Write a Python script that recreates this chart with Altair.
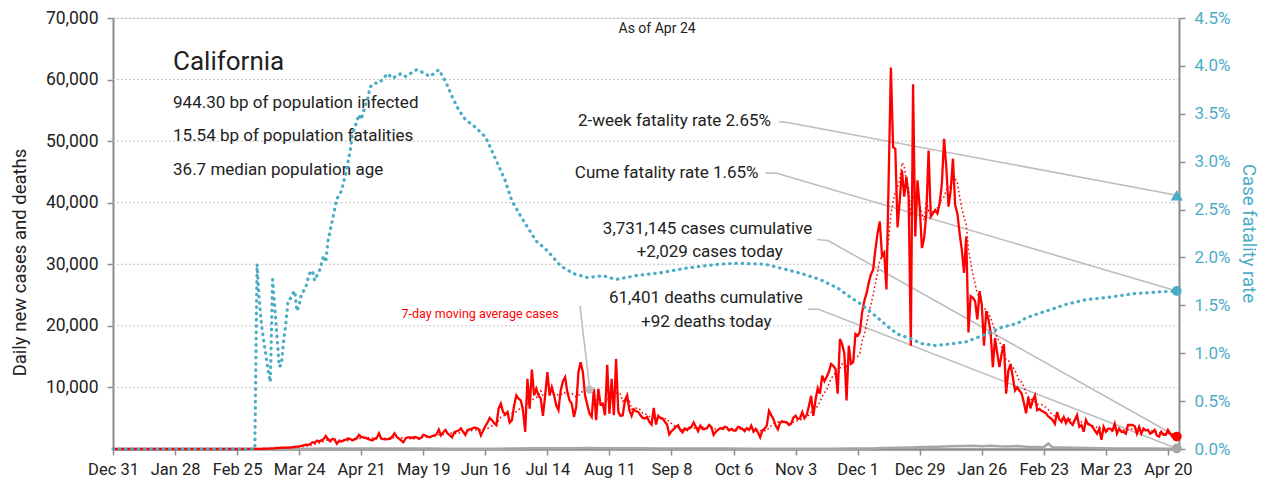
import altair as alt
import pandas as pd

# ---------------- data ----------------
START = "2019-12-31"

# daily new cases, one value per day from Dec 31 2019 to Apr 24 2021
cases = [
    0, 0, 0, 0, 0, 0, 0, 0, 0, 0,
    0, 0, 0, 0, 0, 0, 0, 0, 0, 0,
    0, 0, 0, 0, 0, 1, 0, 0, 0, 0,
    0, 1, 1, 0, 0, 0, 0, 0, 0, 0,
    0, 0, 0, 0, 0, 0, 0, 0, 0, 0,
    0, 0, 0, 0, 0, 0, 2, 1, 3, 5,
    4, 8, 10, 12, 15, 20, 25, 30, 45, 50,
    70, 90, 110, 130, 160, 180, 200, 210, 230, 250,
    240, 300, 350, 400, 420, 500, 600, 700, 650, 800,
    1100, 1000, 1370, 1200, 1400, 1600, 2100, 1600, 1250, 1650,
    1500, 850, 1300, 1200, 1400, 1500, 1700, 1650, 1400, 1600,
    1750, 2300, 1950, 1900, 1800, 1650, 1500, 1370, 1650, 1800,
    2550, 1700, 1600, 1550, 1600, 1650, 2000, 2550, 2000, 1700,
    1400, 1100, 1700, 1900, 1900, 1800, 1950, 1900, 1650, 1800,
    2300, 2200, 2000, 1900, 2100, 2200, 2400, 3150, 2200, 2700,
    3100, 2500, 2200, 1900, 2700, 2900, 3000, 3350, 2800, 2300,
    3100, 3200, 3300, 3500, 3400, 3250, 2200, 3000, 3700, 4300,
    5050, 4680, 4190, 3870, 6560, 7370, 6020, 5590, 6020, 4300,
    4680, 7100, 8710, 8170, 7900, 6290, 2800, 11400, 6560, 12900,
    8710, 9790, 8710, 8170, 5380, 8710, 12470, 8710, 10050, 8710,
    7100, 6290, 9520, 10970, 11670, 9250, 7900, 7370, 5210, 6830,
    12470, 14090, 12470, 8710, 7210, 5750, 5210, 9790, 4680, 9790,
    7210, 7370, 5480, 13660, 5750, 11400, 5480, 14630, 6020, 5380,
    5480, 7900, 8710, 6290, 5380, 6450, 6130, 6020, 5480, 5050,
    4950, 5210, 4410, 3980, 6670, 3980, 5380, 5050, 4950, 4410,
    3980, 2370, 2900, 3230, 3600, 3870, 3060, 2690, 3330, 3060,
    3440, 3600, 4300, 3600, 2900, 3790, 3250, 3250, 3400, 3900,
    3600, 2300, 2800, 3100, 3400, 3300, 3600, 3500, 3000, 3250,
    3000, 3000, 3600, 3500, 3250, 2900, 3400, 3100, 3800, 2800,
    3250, 2700, 1900, 3000, 3300, 3800, 6200, 5500, 4860, 3800,
    3200, 4300, 4400, 4400, 4330, 3900, 4100, 5100, 5400, 4860,
    5000, 6000, 5000, 5500, 7000, 8630, 5400, 8000, 9900, 9000,
    11900, 11000, 11700, 12500, 13800, 13500, 13000, 9000, 17860, 17050,
    15500, 7900, 16770, 13820, 14090, 18670, 18390, 19000, 22150, 24030,
    25270, 26990, 28340, 29140, 32370, 35060, 36940, 31290, 31830, 25910,
    44000, 61940, 49030, 48760, 36000, 40430, 45270, 40970, 44190, 40970,
    16775, 59250, 34520, 43650, 39350, 32630, 34240, 38270, 48490, 37730,
    38270, 38810, 38270, 39880, 43110, 50380, 45800, 39350, 42040, 47150,
    39610, 38270, 35050, 32360, 28600, 34500, 18920, 24830, 24560, 24020,
    21060, 25630, 23480, 16770, 22400, 21060, 18900, 13300, 18000, 15500,
    13300, 15500, 17000, 9000, 12700, 13800, 11700, 9500, 10000, 9500,
    9000, 7500, 5800, 8400, 6600, 7900, 8700, 6300, 6500, 6200,
    6000, 5800, 5300, 5000, 4700, 4100, 6000, 4800, 4400, 5200,
    4200, 4900, 4300, 3900, 4700, 5500, 3600, 3900, 2800, 4700,
    4000, 3900, 3600, 3000, 2500, 3300, 1500, 3600, 2800, 3300,
    3300, 3000, 4100, 2500, 3300, 2800, 2800, 2500, 3900, 3900,
    3900, 3700, 2500, 3600, 2500, 3300, 3000, 3100, 2500, 2700,
    3100, 2200, 2000, 2800, 2300, 2300, 3100, 2500, 2000, 2100,
    2029,
]
assert len(cases) == 481

# daily deaths (read at intervals; day offset from START)
death_day = [0, 60, 70, 80, 88, 95, 102, 110, 118, 126, 134, 142, 150, 158, 166,
             174, 182, 190, 198, 206, 214, 222, 230, 238, 246, 254, 262, 270, 278,
             286, 294, 302, 310, 318, 326, 334, 342, 348, 354, 360, 366, 372, 378,
             384, 388, 392, 396, 400, 404, 408, 412, 416, 420, 422, 424, 428, 434,
             440, 446, 452, 458, 464, 470, 476, 480]
death_val = [0, 0, 3, 20, 40, 70, 90, 80, 75, 70, 80, 70, 60, 55, 45,
             60, 80, 110, 140, 130, 150, 140, 120, 110, 100, 90, 80, 70, 75,
             60, 55, 50, 45, 50, 55, 70, 90, 160, 200, 260, 320, 380, 430,
             470, 520, 460, 540, 430, 400, 470, 360, 330, 290, 900, 270, 230, 200,
             150, 120, 100, 85, 75, 65, 60, 92]

# cumulative case fatality rate in percent (day offset from START)
cfr_day = [0, 64, 65, 66, 67, 68, 69, 70, 71, 72, 73, 74, 75, 76, 77, 78, 79, 80,
           81, 82, 83, 84, 85, 86, 87, 88, 89, 90, 91, 92, 93, 94, 95, 96, 97,
           101, 103, 105, 107, 108, 109, 111, 112, 114, 115, 116, 118, 120, 122,
           124, 126, 130, 132, 137, 139, 143, 147, 150, 153, 156, 159, 163, 168,
           172, 177, 180, 184, 188, 191, 196, 202, 208, 214, 221, 227, 236, 247,
           259, 274, 282, 294, 301, 311, 319, 327, 333, 337, 342, 349, 354, 360,
           365, 371, 379, 385, 393, 401, 408, 412, 421, 430, 439, 448, 460, 472, 480]
cfr_pct = [0, 0, 1.93, 1.55, 1.30, 1.13, 0.98, 0.82, 0.70, 1.77, 1.48, 1.17, 0.86, 0.88,
           1.13, 1.31, 1.55, 1.57, 1.62, 1.65, 1.44, 1.50, 1.62, 1.65, 1.69, 1.78, 1.85,
           1.86, 1.76, 1.81, 1.85, 1.93, 2.02, 1.95, 2.17,
           2.61, 2.69, 2.87, 3.11, 3.28, 3.35, 3.49, 3.44, 3.60, 3.66, 3.78, 3.82, 3.82,
           3.87, 3.92, 3.87, 3.92, 3.89, 3.96, 3.94, 3.89, 3.96, 3.84, 3.68, 3.54, 3.44,
           3.37, 3.26, 3.06, 2.80, 2.59, 2.43, 2.28, 2.17, 2.07, 1.91, 1.83, 1.79, 1.81,
           1.77, 1.81, 1.84, 1.89, 1.93, 1.94, 1.93, 1.89, 1.83, 1.77, 1.68, 1.58, 1.52,
           1.43, 1.29, 1.20, 1.15, 1.10, 1.08, 1.10, 1.12, 1.19, 1.27, 1.31, 1.37, 1.44,
           1.51, 1.56, 1.58, 1.62, 1.64, 1.65]

tick_dates = ["2019-12-31", "2020-01-28", "2020-02-25", "2020-03-24", "2020-04-21",
              "2020-05-19", "2020-06-16", "2020-07-14", "2020-08-11", "2020-09-08",
              "2020-10-06", "2020-11-03", "2020-12-01", "2020-12-29", "2021-01-26",
              "2021-02-23", "2021-03-23", "2021-04-20"]

left_ticks = [10000, 20000, 30000, 40000, 50000, 60000, 70000]
right_ticks = [0, 0.005, 0.01, 0.015, 0.02, 0.025, 0.03, 0.035, 0.04, 0.045]

# latest values
today_cases = 2029
today_deaths = 92
rate_2week = 2.65
rate_cume = 1.65

info_text = ["California", "944.30 bp of population infected",
             "15.54 bp of population fatalities", "36.7 median population age"]
center_text = ["As of Apr 24", "3,731,145 cases cumulative", "+2,029 cases today",
               "61,401 deaths cumulative", "+92 deaths today"]
right_text = ["2-week fatality rate 2.65%", "Cume fatality rate 1.65%"]
avg_label = "7-day moving average cases"

# ---------------- layout (annotation placement) ----------------
info_x = [27.1, 27.1, 27.1, 27.1]
info_y = [61500, 55450, 50050, 44450]
info_fs = [26, 17, 17, 17]
center_x = [245.5, 268.3, 269.3, 267.5, 267.7]
center_y = [67600, 34900, 31150, 23750, 19880]
center_fs = [14, 17, 17, 17, 17]
right_x = [296.9, 291.3]
right_y = [52400, 44000]
avg_label_x, avg_label_y = 201.1, 21200
avg_dot_day = 215

TOP_CASES = 70000
TOP_RATE = 0.045
leaders = [
    ("a", [300.5, 303.7, 480], [53150, 53070, rate_2week / 100 / TOP_RATE * TOP_CASES]),
    ("b", [294.4, 299.5, 480], [44840, 44790, rate_cume / 100 / TOP_RATE * TOP_CASES]),
    ("c", [317.7, 322.6, 480], [34030, 33870, today_cases]),
    ("d", [313.6, 318.3, 480], [22700, 22700, today_deaths]),
    ("e", [210.7, 215.2], [23230, 9500]),
]

BASE = pd.Timestamp(START)


def when(day):
    return (BASE + pd.Timedelta(hours=round(day * 24))).strftime("%Y/%m/%d %H:%M")


def dt(s):
    t = pd.Timestamp(s)
    return alt.DateTime(year=t.year, month=t.month, date=t.day, hours=t.hour, minutes=t.minute)


RED = "#ff0000"
BLUE = "#4bacc6"
GRAY = "#a6a6a6"
LEAD = "#bdbdbd"
INK = "#222222"
AXC = "#8c8c8c"
FONT = "Roboto"

daily = pd.DataFrame({"idx": list(range(len(cases))),
                      "date": [when(i) for i in range(len(cases))],
                      "cases": cases})
deaths = pd.DataFrame({"date": [when(d) for d in death_day], "val": death_val})
cfr = pd.DataFrame({"date": [when(d) for d in cfr_day], "rate": [p / 100 for p in cfr_pct]})
grid_df = pd.DataFrame({"val": left_ticks})

lead_rows = []
for lid, days, vals in leaders:
    for k, (d, v) in enumerate(zip(days, vals)):
        lead_rows.append({"id": lid, "k": k, "date": when(d), "val": v})
lead_df = pd.DataFrame(lead_rows)

info_df = pd.DataFrame({"date": [when(d) for d in info_x], "val": info_y,
                        "txt": info_text, "fs": info_fs})
center_df = pd.DataFrame({"date": [when(d) for d in center_x], "val": center_y,
                          "txt": center_text, "fs": center_fs})
right_df = pd.DataFrame({"date": [when(d) for d in right_x], "val": right_y,
                         "txt": right_text})
avg_lab_df = pd.DataFrame({"date": [when(avg_label_x)], "val": [avg_label_y], "txt": [avg_label]})
end_left = pd.DataFrame({"date": [when(480), when(480)], "val": [today_cases, today_deaths],
                         "c": [RED, GRAY]})
end_right = pd.DataFrame({"date": [when(480), when(480)],
                          "rate": [rate_2week / 100, rate_cume / 100],
                          "shape": ["triangle-up", "circle"], "sz": [150, 95]})

XS = alt.Scale(domain=[dt(when(0)), dt(when(481))])
YL = alt.Scale(domain=[0, TOP_CASES], nice=False)
YR = alt.Scale(domain=[0, TOP_RATE], nice=False)

x_axis = alt.Axis(values=[dt(s) for s in tick_dates], format="%b %-d", labelFontSize=16.5,
                  labelColor=INK, tickSize=6, tickColor=AXC, tickWidth=1.5,
                  domainColor=AXC, domainWidth=2.5, labelPadding=6, grid=False,
                  title=None, labelFlush=False, labelOverlap=False)
yl_axis = alt.Axis(values=left_ticks, labelExpr="format(datum.value, ',')", grid=False,
                   domainColor=AXC, domainWidth=2,
                   tickColor=AXC, tickSize=6, tickWidth=1.5, labelFontSize=17.5,
                   labelColor=INK, labelPadding=9, title="Daily new cases and deaths",
                   titleFontSize=18.5, titleFontWeight="normal", titleColor=INK,
                   titleX=-94, titleY=244, titleAngle=270, titleAlign="center",
                   titleBaseline="middle")
yr_axis = alt.Axis(orient="right", values=right_ticks, format=".1%", grid=False,
                   domainColor=AXC, domainWidth=2, tickColor=AXC, tickSize=6,
                   tickWidth=1.5, labelFontSize=17, labelColor=BLUE, labelPadding=9,
                   title="Case fatality rate", titleFontSize=18.5, titleFontWeight="normal",
                   titleColor=BLUE, titleX=69, titleY=215, titleAngle=90,
                   titleAlign="center", titleBaseline="middle")


def X():
    return alt.X("date:T", scale=XS, axis=x_axis)


def YLeft(field):
    return alt.Y(f"{field}:Q", scale=YL, axis=yl_axis)


def YRight(field):
    return alt.Y(f"{field}:Q", scale=YR, axis=yr_axis)


grid_layer = alt.Chart(grid_df).mark_rule(color="#c4c4c4", strokeWidth=1,
                                          strokeDash=[2, 2]).encode(y=YLeft("val"))

lead_layer = alt.Chart(lead_df).mark_line(color=LEAD, strokeWidth=1.6).encode(
    x=X(), y=YLeft("val"), detail="id:N", order="k:Q")

deaths_layer = alt.Chart(deaths).mark_line(color=GRAY, strokeWidth=2.5).encode(
    x=X(), y=YLeft("val"))

daily_layer = alt.Chart(daily).mark_line(color=RED, strokeWidth=2.3).encode(
    x=X(), y=YLeft("cases"))

avg_base = alt.Chart(daily).transform_window(
    avg7="mean(cases)", frame=[-6, 0], sort=[alt.SortField("idx")])
avg_layer = avg_base.mark_line(color=RED, strokeWidth=1.5, strokeDash=[1.6, 2.6]).encode(
    x=X(), y=YLeft("avg7"))
avg_dot = avg_base.transform_filter(alt.datum.idx == avg_dot_day).mark_circle(
    color=LEAD, size=70, opacity=1).encode(x=X(), y=YLeft("avg7"))

end_left_layer = alt.Chart(end_left).mark_circle(size=95, opacity=1).encode(
    x=X(), y=YLeft("val"), color=alt.Color("c:N", scale=None))

info_layer = alt.Chart(info_df).mark_text(align="left", baseline="alphabetic", color=INK).encode(
    x=X(), y=YLeft("val"), text="txt:N", size=alt.Size("fs:Q", scale=None, legend=None))
center_layer = alt.Chart(center_df).mark_text(align="center", baseline="alphabetic", color=INK).encode(
    x=X(), y=YLeft("val"), text="txt:N", size=alt.Size("fs:Q", scale=None, legend=None))
right_layer = alt.Chart(right_df).mark_text(align="right", baseline="alphabetic", color=INK,
                                            fontSize=17).encode(
    x=X(), y=YLeft("val"), text="txt:N")
avg_text = alt.Chart(avg_lab_df).mark_text(align="right", baseline="alphabetic", color=RED,
                                           fontSize=12.5).encode(
    x=X(), y=YLeft("val"), text="txt:N")

left = alt.layer(grid_layer, deaths_layer, lead_layer, daily_layer, avg_layer, avg_dot,
                 end_left_layer, info_layer, center_layer, right_layer, avg_text)

cfr_layer = alt.Chart(cfr).mark_line(color=BLUE, strokeWidth=3.2, strokeDash=[0.5, 5.8],
                                     strokeCap="round").encode(
    x=X(), y=YRight("rate"))
end_right_layer = alt.Chart(end_right).mark_point(filled=True, color=BLUE, opacity=1).encode(
    x=X(), y=YRight("rate"),
    shape=alt.Shape("shape:N", scale=None),
    size=alt.Size("sz:Q", scale=None, legend=None))

right = alt.layer(cfr_layer, end_right_layer)

chart = alt.layer(left, right).resolve_scale(y="independent").properties(
    width=1066, height=431,
    autosize=alt.AutoSizeParams(type="none"),
    padding={"left": 105, "top": 10, "right": 81, "bottom": 31},
    background="white",
).configure_view(strokeWidth=0).configure(font=FONT).configure_axis(
    labelFont=FONT, titleFont=FONT).configure_text(font=FONT)

chart.save("out.html", embed_options={"renderer": "svg", "actions": False})
